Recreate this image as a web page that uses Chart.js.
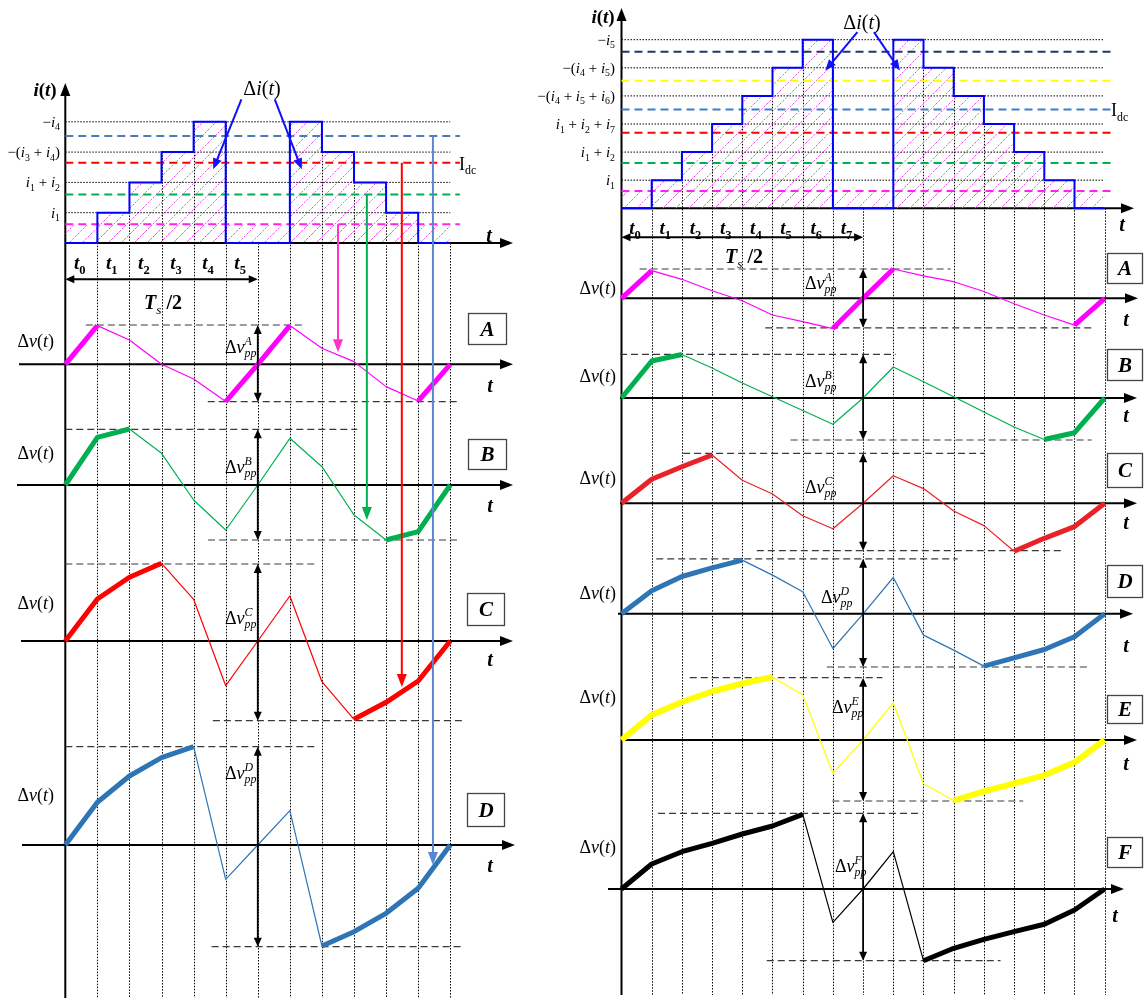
<!DOCTYPE html>
<html>
<head>
<meta charset="utf-8">
<script src="https://cdn.jsdelivr.net/npm/chart.js@4.4.0/dist/chart.umd.min.js"></script>
<style>
  html, body { margin: 0; padding: 0; background: #fff; }
  #wrap { position: relative; width: 1144px; height: 1005px; }
</style>
</head>
<body>
<div id="wrap"><canvas id="c" width="1144" height="1005"></canvas></div>
<script>
// ---------------- data ----------------
// time instants (switching intervals) for the two cases
const kLeft  = [0, 1, 2, 3, 4, 5, 6, 7, 8, 9, 10, 11, 12];
const kRight = [0, 1, 2, 3, 4, 5, 6, 7, 8, 9, 10, 11, 12, 13, 14, 15, 16];

// staircase current i(t), in current steps (level held over [k, k+1))
const stairLeft  = [0, 1, 2, 3, 4, 0, 0, 4, 3, 2, 1, 0, 0];
const stairRight = [0, 1, 2, 3, 4, 5, 6, 0, 0, 6, 5, 4, 3, 2, 1, 0, 0];

// Idc levels (dashed) for each waveform
const idcLeft  = [0.62, 1.6, 2.65, 3.53];
const idcRight = [0.62, 1.61, 2.69, 3.52, 4.54, 5.57];

// tick labels on the i(t) axis
const levelTicksLeft  = ['i_1', 'i_1 + i_2', '−(i_3 + i_4)', '−i_4'];
const levelTicksRight = ['i_1', 'i_1 + i_2', 'i_1 + i_2 + i_7', '−(i_4 + i_5 + i_6)', '−(i_4 + i_5)', '−i_5'];
const tNamesLeft  = ['0', '1', '2', '3', '4', '5'];
const tNamesRight = ['0', '1', '2', '3', '4', '5', '6', '7'];

// voltage ripple Δv(t), left case
const dvLeftA = [0, 38.7, 24.3, 0, -14.7, -37.3, 0, 38.7, 16, 2.7, -22.3, -36.7, 0];
const dvLeftB = [0, 47.7, 56, 31.7, -15, -45, 0, 46.7, 18.3, -30, -55, -46.7, 0];
const dvLeftC = [0, 42, 63.7, 77.7, 41.7, -44.7, 0, 45, -40.7, -78.3, -61.3, -40, 0];
const dvLeftD = [0, 42.7, 69, 87.3, 98.3, -34.3, 0, 34.3, -101, -86.7, -68.3, -43.3, 0];

// voltage ripple Δv(t), right case
const dvRightA = [0, 27.7, 19, 7.6, -2.5, -16.7, -23.4, -30.3, 0, 29.3, 22.5, 16.6, 6.8, -5.5, -16.7, -26.8, 0];
const dvRightB = [0, 37, 43.5, 30, 15, 1.3, -12.5, -26.3, 0, 31, 16.3, 1.3, -14, -29, -41.5, -34.7, 0];
const dvRightC = [0, 24, 36.5, 48.3, 23, 9.3, -12.5, -25.5, 0, 27.5, 14.7, -7.7, -22.3, -48, -35, -23.3, 0];
const dvRightD = [0, 23, 37.3, 46, 53.7, 38.7, 22, -34.7, 0, 36.3, -21.3, -36.3, -52.3, -44, -35.7, -23, 0];
const dvRightE = [0, 25, 38, 48.5, 56.5, 63, 45.3, -33.3, 0, 37.3, -43.7, -60.5, -51.3, -43.3, -35.3, -22.3, 0];
const dvRightF = [0, 25, 37.3, 45.7, 55, 63, 74.7, -33.3, 0, 37.3, -71.7, -59.3, -50.3, -42.7, -35.3, -21, 0];

// peak-to-peak bounds [value, from k, to k]
const ppLeft = {
  A: [[39.3, 0.64, 7.5], [-37.4, 4.44, 12.31]],
  B: [[55.7, 0, 9.1], [-55, 4.45, 12.3]],
  C: [[77, 0, 7.84], [-79.7, 4.6, 12.4]],
  D: [[98.3, 0, 7.84], [-101.7, 4.56, 12.36]]
};
const ppRight = {
  A: [[29.3, 0.6, 10.9], [-29.5, 4.76, 15.6]],
  B: [[43.7, -0.05, 9.08], [-42, 5.6, 15.57]],
  C: [[50, 2.04, 12.02], [-47.4, 4.48, 14.6]],
  D: [[55, 1.15, 11.13], [-53.2, 6.8, 15.46]],
  E: [[62.3, 2.26, 8.64], [-61, 6.98, 13.3]],
  F: [[75.7, 1.21, 9.97], [-71.7, 4.81, 12.55]]
};

// ---------------- layout / style ----------------
const W = 1144, H = 1005;
const FONT = '"Liberation Serif", "DejaVu Serif", serif';
const LEFT  = { x0: 65.3, step: 32.08, iZero: 243, iUnit: 30.3, top: 83, bottom: 998, tTip: 513 };
const RIGHT = { x0: 621.5, step: 30.2, iZero: 208.3, iUnit: 28.1, top: 8, bottom: 995, tTip: 1134 };
const idcColorsLeft  = ['#ff22ee', '#00b050', '#ff0000', '#4a7ebb'];
const idcColorsRight = ['#ff22ee', '#00b050', '#ff0000', '#3d7cc9', '#ffff00', '#203864'];

const panelsLeft = [
  { id: 'A', vals: dvLeftA, color: '#ff00ff', thick: [[0, 1], [5, 7], [11, 12]], wT: 5, zero: 364.3, ax: [19, 513], dv: 341, pp: 347, t: 385, box: [468, 313, 38, 31] },
  { id: 'B', vals: dvLeftB, color: '#00b050', thick: [[0, 2], [10, 12]], wT: 5, zero: 485, ax: [17, 513], dv: 453, pp: 467, t: 505, box: [468, 439, 38, 30] },
  { id: 'C', vals: dvLeftC, color: '#ff0000', thick: [[0, 3], [9, 12]], wT: 5, zero: 641, ax: [21, 513], dv: 603, pp: 618, t: 659, box: [467, 593, 37, 32] },
  { id: 'D', vals: dvLeftD, color: '#2e75b6', thick: [[0, 4], [8, 12]], wT: 5, zero: 845, ax: [22, 515], dv: 795, pp: 773, t: 865, box: [467, 793, 37, 33] }
];
const panelsRight = [
  { id: 'A', vals: dvRightA, color: '#ff00ff', thick: [[0, 1], [7, 9], [15, 16]], wT: 5, zero: 298.3, ax: [622, 1138], dv: 288, pp: [805, 283], t: [1126, 319], box: [1107, 253, 35, 30] },
  { id: 'B', vals: dvRightB, color: '#00b050', thick: [[0, 2], [14, 16]], wT: 5, zero: 398, ax: [620, 1137], dv: 376, pp: [805, 381], t: [1126, 415], box: [1107, 349, 35, 31] },
  { id: 'C', vals: dvRightC, color: '#ea2129', thick: [[0, 3], [13, 16]], wT: 5, zero: 503.3, ax: [620, 1137], dv: 478, pp: [805, 487], t: [1126, 522], box: [1107, 453, 35, 34] },
  { id: 'D', vals: dvRightD, color: '#2e75b6', thick: [[0, 4], [12, 16]], wT: 5, zero: 613.8, ax: [618, 1133], dv: 593, pp: [821, 597], t: [1126, 645], box: [1107, 565, 35, 32] },
  { id: 'E', vals: dvRightE, color: '#ffff00', thick: [[0, 5], [11, 16]], wT: 6, zero: 740, ax: [623, 1137], dv: 697, pp: [832, 707], t: [1126, 763], box: [1107, 695, 35, 28] },
  { id: 'F', vals: dvRightF, color: '#000000', thick: [[0, 6], [10, 16]], wT: 5, zero: 889, ax: [608, 1124], dv: 847, pp: [835, 866], t: [1115, 915], box: [1107, 837, 35, 30] }
];

// arrows from the Idc levels down to the waveforms (left case)
const feedLeft = [
  { k: 8.5, level: 0.62, panel: 'A', to: 12, color: '#ff33cc' },
  { k: 9.4, level: 1.6, panel: 'B', to: -35, color: '#00b050' },
  { k: 10.49, level: 2.65, panel: 'C', to: -46, color: '#ff0000' },
  { k: 11.46, level: 3.53, panel: 'D', to: -20, color: '#5b86d0' }
];
// Δi(t) pointers [k1, level1, k2, level2]
const diLeft  = [[5.49, 4.74, 4.61, 2.43], [6.53, 4.74, 7.37, 2.43]];
const diRight = [[7.81, 6.27, 6.75, 4.9], [8.36, 6.27, 9.22, 4.9]];

// ---------------- helpers ----------------
function xScale(S) { return { type: 'linear', display: false, min: -S.x0 / S.step, max: (W - S.x0) / S.step }; }
function yScale(zero, unit) { return { type: 'linear', display: false, min: -(H - zero) / unit, max: zero / unit }; }
function pts(ks, vals) { return vals.map((v, i) => ({ x: ks[i], y: v })); }
function inRanges(i, ranges) { return ranges.some(r => i >= r[0] && i < r[1]); }

const hatch = (() => {
  const c = document.createElement('canvas');
  c.width = 13; c.height = 13;
  const g = c.getContext('2d');
  g.strokeStyle = '#e650e6';
  g.lineWidth = 1;
  g.setLineDash([2, 1.5]);
  g.beginPath(); g.moveTo(0, 13); g.lineTo(13, 0); g.stroke();
  return g.createPattern(c, 'repeat');
})();

function fontStr(p, size) { return (p.i ? 'italic ' : '') + (p.b ? 'bold ' : '') + size + 'px ' + FONT; }
function measure(ctx, p, size) {
  const s = size * 0.66;
  if (p.up !== undefined) {
    ctx.font = fontStr(p, s);
    return Math.max(ctx.measureText(p.up).width, ctx.measureText(p.dn).width) + 1;
  }
  ctx.font = fontStr(p, p.sub || p.sup ? s : size);
  return ctx.measureText(p.t).width;
}
function rich(ctx, parts, x, y, size, align, color) {
  const ws = parts.map(p => measure(ctx, p, size));
  const total = ws.reduce((a, b) => a + b, 0);
  let cx = align === 'right' ? x - total : align === 'center' ? x - total / 2 : x;
  const base = y + size * 0.33;
  ctx.fillStyle = color || '#000';
  ctx.textAlign = 'left';
  ctx.textBaseline = 'alphabetic';
  parts.forEach((p, i) => {
    const s = size * 0.66;
    if (p.up !== undefined) {
      ctx.font = fontStr(p, s);
      ctx.fillText(p.up, cx, base - size * 0.42);
      ctx.fillText(p.dn, cx, base + size * 0.24);
    } else if (p.sub) {
      ctx.font = fontStr(p, s);
      ctx.fillText(p.t, cx, base + size * 0.24);
    } else if (p.sup) {
      ctx.font = fontStr(p, s);
      ctx.fillText(p.t, cx, base - size * 0.42);
    } else {
      ctx.font = fontStr(p, size);
      ctx.fillText(p.t, cx, base);
    }
    cx += ws[i];
  });
}
// 'i_1 + i_2' -> rich parts (letters italic, _x subscript)
function mathParts(str) {
  const out = [];
  for (let i = 0; i < str.length; i++) {
    const c = str[i];
    if (c === '_') { out.push({ t: str[i + 1], sub: 1 }); i++; }
    else if (/[a-z]/i.test(c)) out.push({ t: c, i: 1 });
    else out.push({ t: c });
  }
  return out;
}
const DV = [{ t: 'Δ' }, { t: 'v', i: 1 }, { t: '(' }, { t: 't', i: 1 }, { t: ')' }];
const DI = [{ t: 'Δ' }, { t: 'i', i: 1 }, { t: '(' }, { t: 't', i: 1 }, { t: ')' }];
const IT = [{ t: 'i', i: 1, b: 1 }, { t: '(', b: 1 }, { t: 't', i: 1, b: 1 }, { t: ')', b: 1 }];
const IDC = [{ t: 'I' }, { t: 'dc', sub: 1 }];
const TS = [{ t: 'T', i: 1, b: 1 }, { t: 's', i: 1, sub: 1 }, { t: ' /2', b: 1 }];
const dvpp = L => [{ t: 'Δ' }, { t: 'v', i: 1 }, { up: L, dn: 'pp', i: 1 }];
const tk = n => [{ t: 't', i: 1, b: 1 }, { t: n, b: 1, sub: 1 }];

function head(ctx, x, y, ang, len, hw) {
  ctx.save();
  ctx.translate(x, y); ctx.rotate(ang);
  ctx.beginPath(); ctx.moveTo(0, 0); ctx.lineTo(-len, -hw); ctx.lineTo(-len, hw); ctx.closePath();
  ctx.fill();
  ctx.restore();
}
function arrow(ctx, x1, y1, x2, y2, color, w, len, hw, both) {
  const ang = Math.atan2(y2 - y1, x2 - x1);
  ctx.save();
  ctx.strokeStyle = color; ctx.fillStyle = color; ctx.lineWidth = w; ctx.setLineDash([]);
  const sx = both ? x1 + Math.cos(ang) * len * 0.8 : x1, sy = both ? y1 + Math.sin(ang) * len * 0.8 : y1;
  ctx.beginPath(); ctx.moveTo(sx, sy);
  ctx.lineTo(x2 - Math.cos(ang) * len * 0.8, y2 - Math.sin(ang) * len * 0.8);
  ctx.stroke();
  head(ctx, x2, y2, ang, len, hw);
  if (both) head(ctx, x1, y1, ang + Math.PI, len, hw);
  ctx.restore();
}

// ---------------- datasets ----------------
const scales = {
  xL: xScale(LEFT), xR: xScale(RIGHT),
  yIL: yScale(LEFT.iZero, LEFT.iUnit), yIR: yScale(RIGHT.iZero, RIGHT.iUnit)
};
panelsLeft.forEach(p => { scales['yL' + p.id] = yScale(p.zero, 1); });
panelsRight.forEach(p => { scales['yR' + p.id] = yScale(p.zero, 1); });

const datasets = [];
function addTop(side, ks, stair, idc, colors, nTicks, dotEnd, dashEnd) {
  const xa = 'x' + side, ya = 'yI' + side;
  // hatched area under the staircase and the lowest Idc band
  datasets.push({ data: pts(ks, stair), xAxisID: xa, yAxisID: ya, stepped: 'before', borderWidth: 0,
    backgroundColor: hatch, fill: 'origin', pointRadius: 0, order: 30 });
  datasets.push({ data: [{ x: ks[0], y: idc[0] }, { x: ks[ks.length - 1], y: idc[0] }], xAxisID: xa, yAxisID: ya,
    borderWidth: 0, backgroundColor: hatch, fill: 'origin', pointRadius: 0, order: 30 });
  // dotted level lines
  for (let lv = 1; lv <= nTicks; lv++) {
    datasets.push({ data: [{ x: 0, y: lv }, { x: dotEnd, y: lv }], xAxisID: xa, yAxisID: ya,
      borderColor: '#000', borderWidth: 1, borderDash: [1.5, 1.5], pointRadius: 0, fill: false, order: 25 });
  }
  // Idc dashed levels
  idc.forEach((v, i) => {
    datasets.push({ data: [{ x: 0, y: v }, { x: dashEnd, y: v }], xAxisID: xa, yAxisID: ya,
      borderColor: colors[i], borderWidth: 2, borderDash: [8, 5], pointRadius: 0, fill: false, order: 20 });
  });
  // staircase
  datasets.push({ data: pts(ks, stair), xAxisID: xa, yAxisID: ya, stepped: 'before', borderColor: '#0000ff',
    borderWidth: 2, pointRadius: 0, fill: false, order: 5 });
}
addTop('L', kLeft, stairLeft, idcLeft, idcColorsLeft, 4, 12, 12.3);
addTop('R', kRight, stairRight, idcRight, idcColorsRight, 6, 15.95, 16.2);

function addPanels(side, ks, panels, pp) {
  panels.forEach(p => {
    const ya = 'y' + side + p.id, xa = 'x' + side;
    pp[p.id].forEach(r => {
      datasets.push({ data: [{ x: r[1], y: r[0] }, { x: r[2], y: r[0] }], xAxisID: xa, yAxisID: ya,
        borderColor: '#3a3a3a', borderWidth: 1.2, borderDash: [7, 4], pointRadius: 0, fill: false, order: 15 });
    });
    datasets.push({ data: pts(ks, p.vals), xAxisID: xa, yAxisID: ya, borderColor: p.color, borderWidth: 1.2,
      borderJoinStyle: 'round', pointRadius: 0, fill: false, tension: 0, order: 1,
      segment: { borderWidth: c => inRanges(c.p0DataIndex, p.thick) ? p.wT : 1.2 } });
  });
}
addPanels('L', kLeft, panelsLeft, ppLeft);
addPanels('R', kRight, panelsRight, ppRight);

// ---------------- drawing of axes, grid and labels ----------------
function vGrid(ctx, chart, side) {
  const S = side === 'L' ? LEFT : RIGHT;
  const ks = side === 'L' ? kLeft : kRight, st = side === 'L' ? stairLeft : stairRight;
  const xs = chart.scales['x' + side], yi = chart.scales['yI' + side];
  ctx.save();
  ctx.strokeStyle = '#000'; ctx.lineWidth = 1; ctx.setLineDash([1.5, 1.5]);
  for (let i = 1; i < ks.length; i++) {
    const x = Math.round(xs.getPixelForValue(ks[i])) + 0.5;
    ctx.beginPath();
    ctx.moveTo(x, yi.getPixelForValue(Math.max(st[i - 1], st[i])));
    ctx.lineTo(x, S.bottom);
    ctx.stroke();
  }
  ctx.restore();
}
function axes(ctx, chart, side, panels) {
  const S = side === 'L' ? LEFT : RIGHT;
  const xs = chart.scales['x' + side], yi = chart.scales['yI' + side];
  const x0 = xs.getPixelForValue(0);
  ctx.save();
  ctx.fillStyle = '#000';
  arrow(ctx, x0, S.bottom, x0, S.top, '#000', 2, 13, 5);
  arrow(ctx, x0, yi.getPixelForValue(0), S.tTip, yi.getPixelForValue(0), '#000', 2, 13, 5);
  panels.forEach(p => {
    const y = chart.scales['y' + side + p.id].getPixelForValue(0);
    arrow(ctx, p.ax[0], y, p.ax[1], y, '#000', 2, 13, 5);
  });
  ctx.restore();
}
function box(ctx, b, letter) {
  ctx.save();
  ctx.fillStyle = '#fff'; ctx.fillRect(b[0], b[1], b[2], b[3]);
  ctx.strokeStyle = '#444'; ctx.lineWidth = 1.3; ctx.strokeRect(b[0] + 0.5, b[1] + 0.5, b[2], b[3]);
  rich(ctx, [{ t: letter, i: 1, b: 1 }], b[0] + b[2] / 2 + 0.5, b[1] + b[3] / 2 + 0.5, 21, 'center');
  ctx.restore();
}

const diagram = {
  id: 'diagram',
  beforeDatasetsDraw(chart) {
    const ctx = chart.ctx;
    vGrid(ctx, chart, 'L'); vGrid(ctx, chart, 'R');
    axes(ctx, chart, 'L', panelsLeft); axes(ctx, chart, 'R', panelsRight);
  },
  afterDatasetsDraw(chart) {
    const ctx = chart.ctx, sc = chart.scales;
    const xL = v => sc.xL.getPixelForValue(v), xR = v => sc.xR.getPixelForValue(v);
    const iL = v => sc.yIL.getPixelForValue(v), iR = v => sc.yIR.getPixelForValue(v);

    // ---- left top ----
    rich(ctx, IT, 45, 90, 19, 'center');
    rich(ctx, DI, 262, 88, 20, 'center');
    levelTicksLeft.forEach((s, i) => rich(ctx, mathParts(s), 60, iL(i + 1), 15, 'right'));
    rich(ctx, IDC, 459, iL(idcLeft[2]) + 1, 18, 'left');
    rich(ctx, [{ t: 't', i: 1, b: 1 }], 489, 235, 20, 'center');
    tNamesLeft.forEach((n, i) => rich(ctx, tk(n), xL(i + 0.45), 263, 19, 'center'));
    arrow(ctx, xL(0), 279.3, xL(6), 279.3, '#000', 2, 9, 4, true);
    rich(ctx, TS, 163, 302.7, 20, 'center');
    diLeft.forEach(a => arrow(ctx, xL(a[0]), iL(a[1]), xL(a[2]), iL(a[3]), '#1010ff', 2, 11, 4.5));

    // ---- left panels ----
    panelsLeft.forEach(p => {
      const y = sc['yL' + p.id];
      rich(ctx, DV, 54, p.dv, 18, 'right');
      rich(ctx, dvpp(p.id), 225, p.pp, 18, 'left');
      rich(ctx, [{ t: 't', i: 1, b: 1 }], 490, p.t, 20, 'center');
      const r = ppLeft[p.id];
      arrow(ctx, xL(6), y.getPixelForValue(r[0][0]), xL(6), y.getPixelForValue(r[1][0]), '#000', 1.8, 9, 4, true);
      box(ctx, p.box, p.id);
    });
    feedLeft.forEach(f => {
      arrow(ctx, xL(f.k), iL(f.level), xL(f.k), sc['yL' + f.panel].getPixelForValue(f.to), f.color, 2, 13, 5);
    });

    // ---- right top ----
    rich(ctx, IT, 603, 17, 19, 'center');
    rich(ctx, DI, 862, 22, 20, 'center');
    levelTicksRight.forEach((s, i) => rich(ctx, mathParts(s), 615, iR(i + 1), 15, 'right'));
    rich(ctx, IDC, 1111, iR(idcRight[3]) + 1, 18, 'left');
    rich(ctx, [{ t: 't', i: 1, b: 1 }], 1122, 224, 20, 'center');
    tNamesRight.forEach((n, i) => rich(ctx, tk(n), xR(i + 0.45), 228, 19, 'center'));
    arrow(ctx, xR(0), 237.3, xR(8), 237.3, '#000', 2, 9, 4, true);
    rich(ctx, TS, 744, 256.7, 20, 'center');
    diRight.forEach(a => arrow(ctx, xR(a[0]), iR(a[1]), xR(a[2]), iR(a[3]), '#1010ff', 2, 11, 4.5));

    // ---- right panels ----
    panelsRight.forEach(p => {
      const y = sc['yR' + p.id];
      rich(ctx, DV, 616, p.dv, 18, 'right');
      rich(ctx, dvpp(p.id), p.pp[0], p.pp[1], 18, 'left');
      rich(ctx, [{ t: 't', i: 1, b: 1 }], p.t[0], p.t[1], 20, 'center');
      const r = ppRight[p.id];
      arrow(ctx, xR(8), y.getPixelForValue(r[0][0]), xR(8), y.getPixelForValue(r[1][0]), '#000', 1.8, 9, 4, true);
      box(ctx, p.box, p.id);
    });
  }
};

new Chart(document.getElementById('c'), {
  type: 'line',
  data: { datasets },
  options: {
    responsive: false,
    animation: false,
    devicePixelRatio: 1,
    events: [],
    layout: { padding: 0 },
    plugins: { legend: { display: false }, tooltip: { enabled: false } },
    scales
  },
  plugins: [diagram]
});
</script>
</body>
</html>
